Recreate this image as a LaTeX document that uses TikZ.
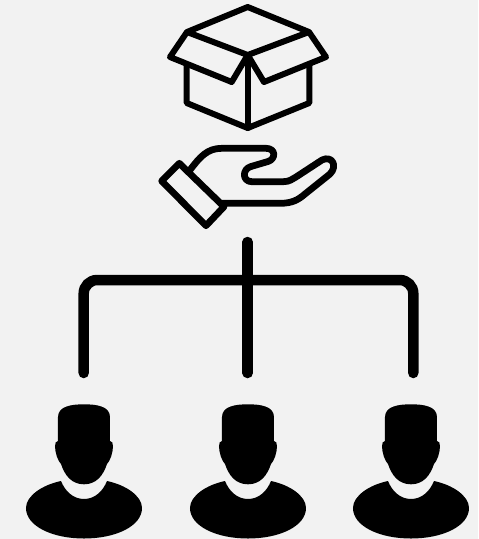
\documentclass[tikz,border=0pt]{standalone}
\definecolor{paper}{HTML}{F2F2F2}
\tikzset{
  boxline/.style={line width=0.12cm, line join=round, line cap=round},
  handline/.style={line width=0.135cm, line join=round, line cap=round},
  busline/.style={line width=0.21cm, line cap=round},
}

\begin{document}
\begin{tikzpicture}[x=0.02cm, y=-0.02cm]
  \fill[paper] (0, 0) rectangle (478, 539);

  \draw[boxline] (247.7, 7) -- (309, 32) -- (247.7, 55) -- (187, 32) -- cycle;
  \draw[boxline] (187, 32) -- (170, 57) -- (231.7, 82) -- (247.7, 55);
  \draw[boxline] (309, 32) -- (326, 57) -- (264, 82) -- (247.7, 55);
  \draw[boxline] (186.7, 65) -- (186.7, 103) -- (247.7, 128) -- (309.3, 103) -- (309.3, 65);
  \draw[boxline] (247.7, 55) -- (247.7, 128);

  \draw[handline] (179.3, 163.3) -- (161.7, 181) -- (206, 225.7) -- (224, 206.7) -- cycle;
  \draw[handline] (190, 170) .. controls (200, 157) and (207, 148.3) .. (222, 148.3)
    -- (266, 148.3) .. controls (276, 148.3) and (276, 159) .. (268, 161.5)
    -- (251, 166.5) .. controls (242, 169) and (242, 181.7) .. (252, 181.7)
    -- (283, 181.7) .. controls (290, 181.7) and (292, 179) .. (296, 177)
    -- (322, 160) .. controls (332, 155) and (338, 166) .. (330, 174)
    -- (305, 194) .. controls (298, 200) and (292, 203.3) .. (280, 203.3)
    -- (222, 203.3);

  \coordinate (hub) at (247.7, 242);
  \coordinate (midbus) at (247.7, 280);
  \coordinate (leftend) at (83.7, 373);
  \coordinate (midend) at (247.7, 373);
  \coordinate (rightend) at (413.3, 373);
  \draw[busline] (hub) -- (midend);
  \draw[busline, rounded corners=0.27cm] (leftend) |- (midbus) -| (rightend);

  \foreach \px in {84, 248, 411} {
    \begin{scope}[xshift=\px*0.02cm]
      \fill (0, 404.3) .. controls (-12, 404.3) and (-26, 406) .. (-26, 417)
        -- (-26, 441) .. controls (-28, 441) and (-29, 443) .. (-29, 446)
        .. controls (-29, 453) and (-26, 461) .. (-23, 464)
        .. controls (-19, 476) and (-12, 484.3) .. (0, 484.3)
        .. controls (12, 484.3) and (19, 476) .. (23, 464)
        .. controls (26, 461) and (29, 453) .. (29, 446)
        .. controls (29, 443) and (28, 441) .. (26, 441)
        -- (26, 417) .. controls (26, 406) and (12, 404.3) .. (0, 404.3) -- cycle;
      \fill (-23, 481) .. controls (-19, 491) and (-11, 499) .. (0, 499)
        .. controls (11, 499) and (19, 491) .. (23, 481)
        .. controls (42, 485) and (58, 496) .. (58, 508)
        .. controls (58, 526) and (32, 538.5) .. (0, 538.5)
        .. controls (-32, 538.5) and (-58, 526) .. (-58, 508)
        .. controls (-58, 496) and (-42, 485) .. (-23, 481) -- cycle;
    \end{scope}
  }
\end{tikzpicture}
\end{document}
